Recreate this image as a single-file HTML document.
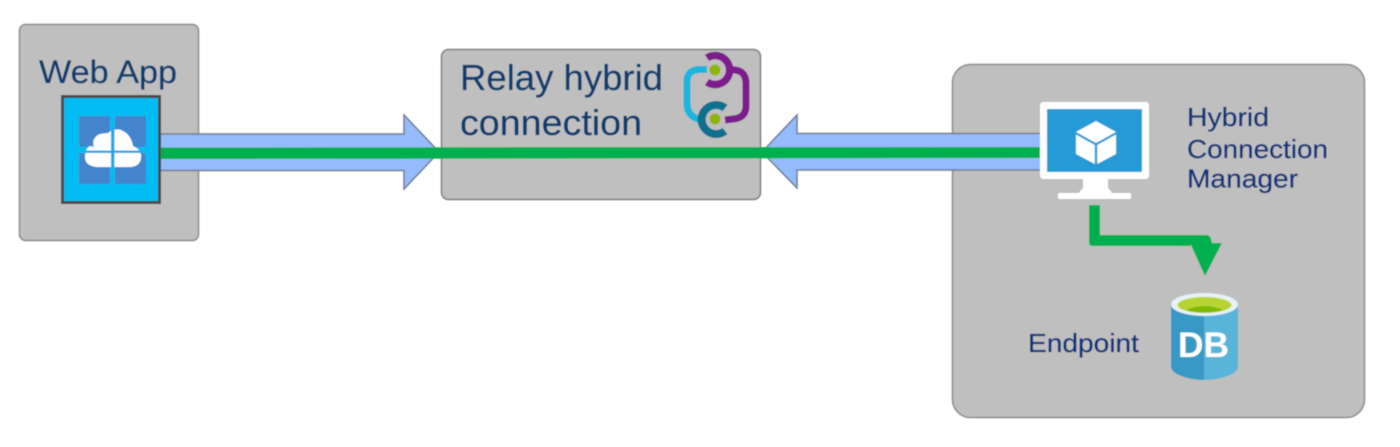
<!DOCTYPE html>
<html>
<head>
<meta charset="utf-8">
<style>
html,body{margin:0;padding:0;background:#fff;width:1400px;height:447px;overflow:hidden}
svg{display:block}
text{font-family:"Liberation Sans",sans-serif}
</style>
</head>
<body>
<svg width="1400" height="447" viewBox="0 0 1400 447" xmlns="http://www.w3.org/2000/svg">
<defs><filter id="b" x="-5%" y="-5%" width="110%" height="110%"><feGaussianBlur stdDeviation="0.45"/></filter></defs>
<rect width="1400" height="447" fill="#fff"/>
<g filter="url(#b)">
  <!-- containers -->
  <rect x="19.5" y="24.5" width="179" height="216" rx="6" fill="#bfbfbf" stroke="#8c8c8c" stroke-width="1.5"/>
  <rect x="441.5" y="49.5" width="319" height="150" rx="7" fill="#bfbfbf" stroke="#7f7f7f" stroke-width="1.5"/>
  <rect x="952.5" y="64.5" width="412" height="353" rx="18" fill="#bfbfbf" stroke="#8c8c8c" stroke-width="1.5"/>

  <!-- blue arrows -->
  <polygon points="160,134 404,134 404,115 439,152 404,189 404,170.500 160,170.500" fill="#94bbfb" stroke="#6f7f96" stroke-width="1.500"/>
  <polygon points="1042,133.500 797,133.500 797,115 762,152 797,188 797,170 1042,170" fill="#94bbfb" stroke="#6f7f96" stroke-width="1.500"/>
  <!-- green bus -->
  <polygon points="160,147.500 1042,147 1042,158 160,159" fill="#00b04f"/>

  <!-- web app tile -->
  <rect x="62.500" y="96.500" width="97" height="106" fill="#00bcf2" stroke="#484848" stroke-width="3"/>
  <rect x="79" y="116" width="31" height="31" rx="1.500" fill="#4285cd"/>
  <rect x="115" y="116" width="31" height="31" rx="1.500" fill="#4285cd"/>
  <rect x="79" y="153" width="31" height="31" rx="1.500" fill="#4285cd"/>
  <rect x="115" y="153" width="31" height="31" rx="1.500" fill="#4285cd"/>
  <path d="M94,147 Q91,138 100,134 Q106,133 108,133 Q114,128 121,130 Q131,134 133,146 Q142,150 141,158 Q140,166 131,167 L97,167 Q85,166 85,157 Q85,149 90,146 Z" fill="#fff"/>
  <rect x="85" y="150.500" width="57" height="2.500" fill="#27a7e8"/>
  <rect x="111" y="128" width="3.500" height="40" fill="#27a7e8"/>

  <!-- relay icon -->
  <g fill="none" stroke-linecap="butt">
    <path d="M707,69.500 L699,69.500 Q688,70 687,80 L687,105 Q688,117 701,120" stroke="#1fb5dd" stroke-width="7"/>
    <path d="M707,58 A14.500,14.500 0 1 1 707,82" stroke="#7d1a8c" stroke-width="7.500"/>
    <path d="M728,69 L735,70 Q746,71 746,84 L746,106 Q746,118 733,119 L725,120" stroke="#7d1a8c" stroke-width="7"/>
    <path d="M725,108 A14.500,14.500 0 1 0 725,131" stroke="#0b6f8e" stroke-width="8"/>
  </g>
  <circle cx="715" cy="70" r="5.500" fill="#8fb30c"/>
  <circle cx="715" cy="119" r="5.500" fill="#8fb30c"/>

  <!-- monitor -->
  <rect x="1040" y="102" width="109" height="77" rx="3.500" fill="#fff"/>
  <rect x="1047" y="109" width="95" height="63" fill="#259ad6"/>
  <polygon points="1083,178 1108,178 1108,188 1113,194 1078,194 1083,188" fill="#fff"/>
  <rect x="1058" y="193" width="73" height="6" rx="1.500" fill="#fff"/>
  <polygon points="1096,121 1116,132 1096,143 1076,132" fill="#fff"/>
  <polygon points="1076,134.500 1094.800,145 1094.800,164 1076,154" fill="#fff"/>
  <polygon points="1097.200,145 1116,134.500 1116,154 1097.200,164" fill="#fff"/>

  <!-- green elbow -->
  <path d="M1089,205 H1100 V235 H1206 Q1210,235 1211,239 L1212,243 H1222 L1205,276 L1190,243 H1192 L1190,246 H1093 Q1089,246 1089,242 Z" fill="#00b04f"/>

  <!-- database -->
  <path d="M1171,304 V367 Q1172,374 1188,378 Q1204,382 1221,378 Q1237,374 1238,367 V304 Z" fill="#59b4d9"/>
  <path d="M1171,304 V367 Q1172,374 1188,378 Q1196,380 1204,380 V304 Z" fill="#3999c6"/>
  <ellipse cx="1204.500" cy="304.500" rx="33.500" ry="11.500" fill="#e6f2f7"/>
  <ellipse cx="1204.500" cy="305" rx="27" ry="8" fill="#b8d432"/>
  <path d="M1186,310 Q1204,302 1223,310 Q1204,315 1186,310 Z" fill="#7fba00"/>
  <text x="1178" y="357" font-size="35" font-weight="bold" fill="#fff" textLength="51" lengthAdjust="spacingAndGlyphs">DB</text>

  <!-- labels -->
  <g stroke-width="0.3">
  <text x="39" y="83" font-size="32" fill="#0c3d6e" stroke="#0c3d6e" textLength="138" lengthAdjust="spacingAndGlyphs">Web App</text>
  <text x="460" y="90" font-size="36" fill="#0c3d6e" stroke="#0c3d6e" textLength="203" lengthAdjust="spacingAndGlyphs">Relay hybrid</text>
  <text x="460" y="135" font-size="36" fill="#0c3d6e" stroke="#0c3d6e" textLength="182" lengthAdjust="spacingAndGlyphs">connection</text>
  <text x="1187" y="126" font-size="26" fill="#0f3578" stroke="#0f3578" textLength="82" lengthAdjust="spacingAndGlyphs">Hybrid</text>
  <text x="1187" y="158" font-size="26" fill="#0f3578" stroke="#0f3578" textLength="141" lengthAdjust="spacingAndGlyphs">Connection</text>
  <text x="1187" y="187.500" font-size="26" fill="#0f3578" stroke="#0f3578" textLength="111" lengthAdjust="spacingAndGlyphs">Manager</text>
  <text x="1028" y="352" font-size="26" fill="#0f3578" stroke="#0f3578" textLength="111" lengthAdjust="spacingAndGlyphs">Endpoint</text>
  </g>
</g>
</svg>
</body>
</html>
